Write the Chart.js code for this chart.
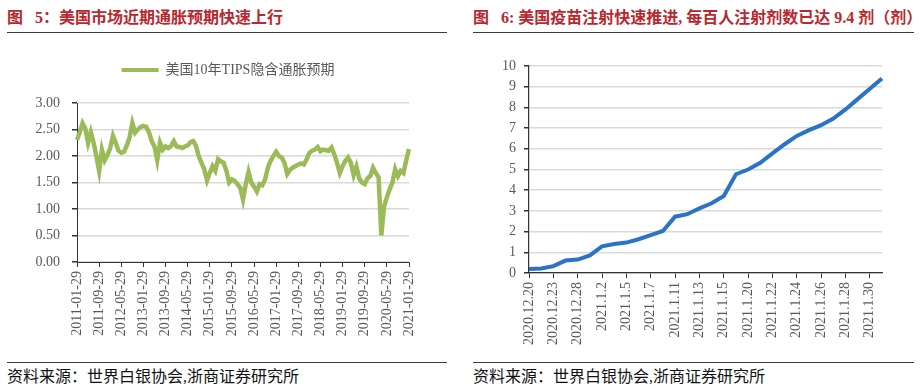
<!DOCTYPE html>
<html>
<head>
<meta charset="utf-8">
<script src="https://cdn.jsdelivr.net/npm/chart.js@4.4.1/dist/chart.umd.min.js"></script>
<style>
body { margin: 0; background: #fff; width: 920px; height: 392px; position: relative; overflow: hidden;
       font-family: 'Liberation Serif', 'Noto Sans CJK SC', serif; }
.title { position: absolute; top: 8px; font-size: 16px; font-weight: bold; color: #B8282E; line-height: 20px; white-space: pre; }
.rule { position: absolute; height: 1px; background: #3a3a3a; }
.src { position: absolute; top: 367px; font-size: 16px; line-height: 20px; color: #111; white-space: nowrap; }
canvas { position: absolute; top: 40px; }
</style>
</head>
<body>
<div class="title" style="left:7px">图   5：美国市场近期通胀预期快速上行</div>
<div class="title" style="left:473px">图   6: 美国疫苗注射快速推进, 每百人注射剂数已达 9.4 剂（剂）</div>
<div class="rule" style="left:7px;width:440px;top:32px"></div>
<div class="rule" style="left:473px;width:441px;top:32px"></div>
<canvas id="chart_tips" width="460" height="320" style="left:0"></canvas>
<canvas id="chart_vac" width="460" height="320" style="left:460px"></canvas>
<div class="rule" style="left:7px;width:440px;top:362px"></div>
<div class="rule" style="left:473px;width:441px;top:362px"></div>
<div class="src" style="left:7px">资料来源：世界白银协会,浙商证券研究所</div>
<div class="src" style="left:473px">资料来源：世界白银协会,浙商证券研究所</div>

<script>
// monthly readings, 2011-01 .. 2021-01
const tipsName = '美国10年TIPS隐含通胀预期';
const tipsStartYear = 2011;
const tipsValues = [
    2.30, 2.45, 2.62, 2.52, 2.25, 2.45, 2.25, 2.00, 1.72, 2.12,
    1.92, 2.02, 2.15, 2.38, 2.25, 2.10, 2.06, 2.08, 2.20, 2.35,
    2.62, 2.44, 2.50, 2.55, 2.57, 2.55, 2.45, 2.28, 2.18, 1.92,
    2.25, 2.12, 2.18, 2.15, 2.19, 2.28, 2.18, 2.17, 2.15, 2.18,
    2.20, 2.26, 2.28, 2.19, 2.00, 1.87, 1.75, 1.54, 1.68, 1.81,
    1.72, 1.94, 1.90, 1.87, 1.72, 1.50, 1.56, 1.53, 1.47, 1.40,
    1.18, 1.47, 1.70, 1.50, 1.42, 1.33, 1.47, 1.45, 1.56, 1.78,
    1.91, 2.00, 2.08, 2.00, 1.97, 1.87, 1.66, 1.74, 1.78, 1.81,
    1.84, 1.86, 1.84, 1.94, 2.06, 2.10, 2.12, 2.17, 2.09, 2.12,
    2.11, 2.10, 2.16, 2.03, 1.87, 1.68, 1.81, 1.91, 1.97, 1.87,
    1.64, 1.80, 1.58, 1.50, 1.47, 1.58, 1.62, 1.78, 1.68, 1.60,
    0.50, 1.05, 1.22, 1.37, 1.50, 1.75, 1.62, 1.72, 1.68, 1.92,
    2.13
];
const tipsDates = [];
for (let i = 0; i < tipsValues.length; i++) {
    const y = tipsStartYear + Math.floor(i / 12);
    const m = i % 12 + 1;
    tipsDates.push(y + '-' + String(m).padStart(2, '0') + '-' + (m === 2 ? '28' : '29'));
}
const tipsEvery = 8;

const vacDates = [
    '2020.12.20', '2020.12.21', '2020.12.23', '2020.12.24', '2020.12.28', '2020.12.30',
    '2021.1.2', '2021.1.4', '2021.1.5', '2021.1.6', '2021.1.7', '2021.1.8',
    '2021.1.11', '2021.1.12', '2021.1.13', '2021.1.14', '2021.1.15', '2021.1.19',
    '2021.1.20', '2021.1.21', '2021.1.22', '2021.1.23', '2021.1.24', '2021.1.25',
    '2021.1.26', '2021.1.27', '2021.1.28', '2021.1.29', '2021.1.30', '2021.1.31'
];
const vacValues = [
    0.19, 0.22, 0.33, 0.60, 0.65, 0.85, 1.29, 1.40, 1.47, 1.63,
    1.83, 2.03, 2.72, 2.84, 3.12, 3.37, 3.72, 4.77, 5.00, 5.32,
    5.78, 6.22, 6.62, 6.90, 7.14, 7.46, 7.90, 8.40, 8.90, 9.40
];
const vacEvery = 2;

const fontFamily = "'Liberation Serif', 'Noto Sans CJK SC', serif";
const tickFont = { family: fontFamily, size: 14 };
const textGray = '#595959';
const gridGray = '#d9d9d9';
const axisDark = '#333333';
const green = '#9BBB59';
const blue = '#2B73C5';

// push the plot down below the legend
const legendGap = {
    id: 'legendGap',
    beforeInit(chart) {
        const fit = chart.legend.fit;
        chart.legend.fit = function () {
            fit.call(this);
            this.height += 16;
        };
    }
};

new Chart(document.getElementById('chart_tips'), {
    type: 'line',
    data: {
        labels: tipsDates,
        datasets: [{
            label: tipsName,
            data: tipsValues,
            borderColor: green,
            backgroundColor: green,
            borderWidth: 4.5,
            pointRadius: 0,
            tension: 0
        }]
    },
    plugins: [legendGap],
    options: {
        responsive: false,
        animation: false,
        layout: { padding: { top: 13, left: 0, right: 4, bottom: 0 } },
        plugins: {
            tooltip: { enabled: false },
            legend: {
                display: true,
                position: 'top',
                labels: {
                    boxWidth: 37,
                    boxHeight: 4,
                    padding: 10,
                    color: textGray,
                    font: tickFont,
                    generateLabels: (chart) => Chart.defaults.plugins.legend.labels.generateLabels(chart)
                        .map(l => Object.assign(l, { lineWidth: 0, fillStyle: green }))
                }
            }
        },
        scales: {
            x: {
                afterFit: (scale) => { scale.height = 98; },
                border: { color: axisDark, width: 1 },
                grid: {
                    drawOnChartArea: false,
                    tickLength: 5,
                    tickColor: (ctx) => ctx.index % tipsEvery === 0 ? axisDark : 'rgba(0,0,0,0)'
                },
                ticks: {
                    autoSkip: false,
                    minRotation: 90,
                    maxRotation: 90,
                    padding: 4,
                    color: textGray,
                    font: tickFont,
                    callback: function (value, index) {
                        return index % tipsEvery === 0 ? this.getLabelForValue(value) : '';
                    }
                }
            },
            y: {
                min: 0,
                max: 3,
                afterFit: (scale) => { scale.width = 77; },
                border: { color: axisDark, width: 1 },
                grid: { color: gridGray, lineWidth: 1.5, tickLength: 5, tickColor: axisDark },
                ticks: {
                    stepSize: 0.5,
                    padding: 12,
                    color: textGray,
                    font: tickFont,
                    callback: (v) => v.toFixed(2)
                }
            },
            // empty right-hand spacer so the legend can centre on the whole panel
            yRight: {
                type: 'linear',
                position: 'right',
                afterFit: (scale) => { scale.width = 47; },
                border: { display: false },
                grid: { display: false },
                ticks: { display: false }
            }
        }
    }
});

new Chart(document.getElementById('chart_vac'), {
    type: 'line',
    data: {
        labels: vacDates,
        datasets: [{
            label: '每百人注射剂数',
            data: vacValues,
            borderColor: blue,
            backgroundColor: blue,
            borderWidth: 4,
            pointRadius: 0,
            tension: 0
        }]
    },
    options: {
        responsive: false,
        animation: false,
        layout: { padding: { top: 26, left: 0, right: 38, bottom: 0 } },
        plugins: {
            tooltip: { enabled: false },
            legend: { display: false }
        },
        scales: {
            x: {
                afterFit: (scale) => { scale.height = 87; },
                border: { color: axisDark, width: 1.2 },
                grid: {
                    drawOnChartArea: false,
                    tickLength: 5,
                    tickColor: (ctx) => ctx.index % vacEvery === 0 ? axisDark : 'rgba(0,0,0,0)'
                },
                ticks: {
                    autoSkip: false,
                    minRotation: 90,
                    maxRotation: 90,
                    padding: 4,
                    color: textGray,
                    font: tickFont,
                    callback: function (value, index) {
                        return index % vacEvery === 0 ? this.getLabelForValue(value) : '';
                    }
                }
            },
            y: {
                min: 0,
                max: 10,
                afterFit: (scale) => { scale.width = 69; },
                border: { color: axisDark, width: 1.2 },
                grid: { color: gridGray, lineWidth: 1.5, tickLength: 5, tickColor: axisDark },
                ticks: {
                    stepSize: 1,
                    padding: 8,
                    color: textGray,
                    font: tickFont
                }
            }
        }
    }
});
</script>
</body>
</html>
